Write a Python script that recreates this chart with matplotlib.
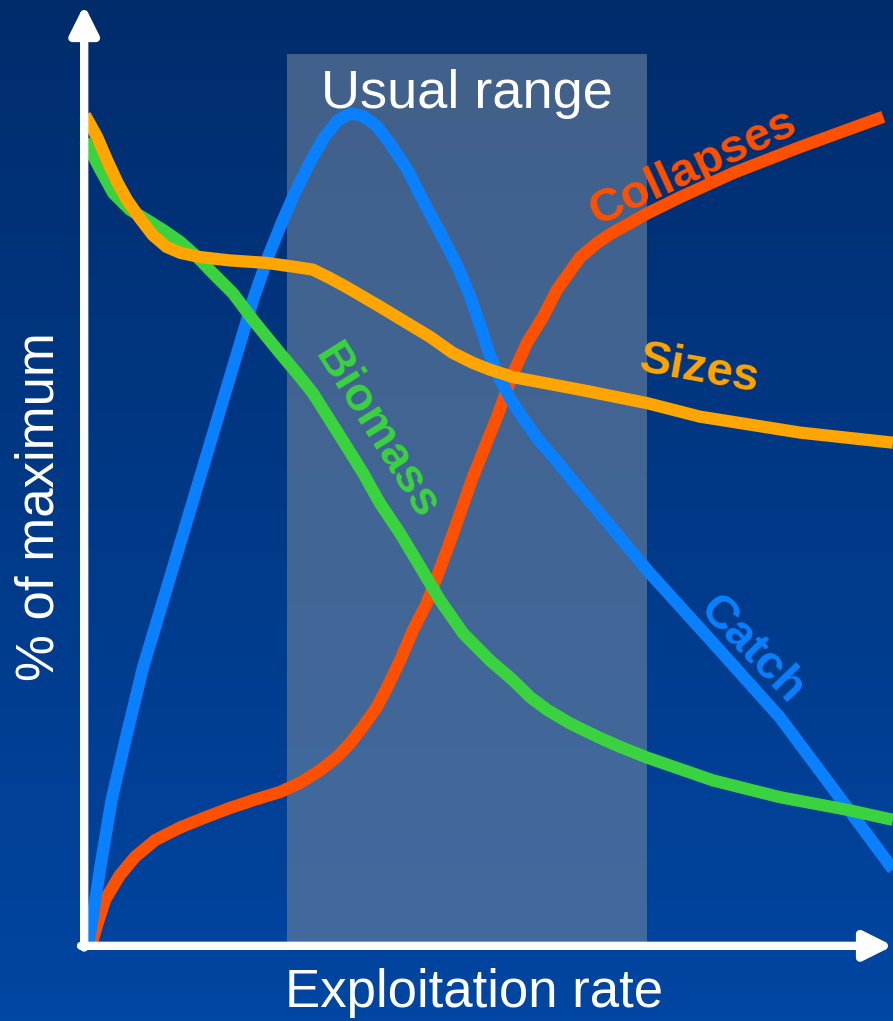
import numpy as np
import matplotlib
matplotlib.use('Agg')
from matplotlib import pyplot as plt

plt.rcParams['font.family'] = ['Liberation Sans', 'DejaVu Sans']

# exploitation rate (0-100) vs % of maximum
catch_x = [0.4, 0.9, 1.9, 3.3, 5.2, 7.2, 9.7, 13.4, 17.1, 20.8, 22.6, 24.4, 26.0, 27.8, 29.5,
           31.2, 32.8, 34.4, 36.1, 37.7, 39.9, 41.8, 43.9, 46.0, 47.6, 48.9, 50.1, 51.4,
           52.6, 53.8, 55.9, 58.4, 61.3, 69.6, 77.7, 86.0, 94.3, 100.0]
catch_y = [0.0, 3.0, 9.3, 17.3, 25.2, 33.1, 41.1, 53.0, 64.9, 76.8, 81.8, 86.1, 89.6, 93.1, 96.0,
           98.1, 99.0, 98.7, 97.5, 95.5, 92.3, 88.7, 84.9, 81.0, 77.4, 73.8, 70.2, 67.3,
           65.1, 63.3, 60.4, 57.6, 54.2, 44.6, 36.0, 27.1, 16.4, 9.0]

collapse_x = [0.9, 1.5, 2.5, 4.3, 6.2, 8.7, 11.8, 14.9, 17.9, 21.0, 24.1, 26.6, 29.1, 31.2,
              32.8, 34.4, 36.1, 37.4, 39.0, 40.6, 42.3, 44.8, 48.0, 51.0, 53.0, 54.7, 56.7,
              58.4, 61.3, 63.4, 65.3, 69.6, 73.6, 80.2, 88.5, 98.8]
collapse_y = [0.4, 2.4, 5.4, 8.3, 10.5, 12.5, 14.0, 15.2, 16.3, 17.3, 18.2, 19.3, 20.8, 22.4,
              24.0, 26.0, 28.3, 30.7, 33.9, 37.5, 40.7, 47.0, 55.7, 62.9, 68.1, 71.7, 74.8,
              78.0, 81.9, 83.6, 84.8, 87.1, 89.0, 91.9, 95.0, 98.6]

biomass_x = [0.0, 1.9, 3.5, 5.6, 7.7, 9.7, 11.8, 13.9, 15.8, 18.3, 20.8, 24.1, 26.2, 28.2, 30.3,
             32.4, 34.4, 36.5, 39.0, 41.5, 43.9, 46.8, 50.1, 53.0, 55.1, 57.2, 60.0, 63.4, 66.2,
             69.6, 77.7, 86.0, 94.3, 100.0]
biomass_y = [95.8, 92.3, 89.5, 87.5, 86.3, 85.1, 83.7, 81.9, 80.0, 77.6, 74.4, 70.5, 68.1, 65.7, 62.5,
             59.3, 56.2, 52.6, 49.0, 45.0, 41.1, 37.1, 33.9, 31.5, 29.5, 28.0, 26.4, 24.8, 23.6,
             22.3, 19.6, 17.6, 16.1, 14.9]

sizes_x = [0.0, 1.5, 2.7, 4.0, 5.2, 6.8, 8.4, 10.1, 11.8, 14.2, 17.9, 22.5, 26.2, 28.2, 30.3,
           32.4, 36.5, 42.7, 45.5, 48.0, 50.1, 53.0, 61.3, 69.6, 76.1, 88.5, 100.0]
sizes_y = [98.8, 96.2, 93.5, 90.8, 88.7, 86.5, 84.5, 83.1, 82.4, 81.9, 81.5, 81.2, 80.7, 80.4, 79.4,
           78.3, 76.0, 72.4, 70.5, 69.3, 68.5, 67.6, 66.1, 64.5, 62.9, 61.0, 59.8]

usual_range = (25.0, 69.6)

fig = plt.figure(figsize=(8.93, 10.21), dpi=100)

# blue gradient backdrop
bg = fig.add_axes([0, 0, 1, 1], zorder=-10)
top = np.array([1, 44, 108]) / 255.
bot = np.array([0, 70, 162]) / 255.
t = np.linspace(0, 1, 256)[:, None]
grad = top[None, None, :] * (1 - t[:, :, None]) + bot[None, None, :] * t[:, :, None]
bg.imshow(grad, aspect='auto', extent=[0, 1, 0, 1])
bg.axis('off')

ax = fig.add_axes([85/893, 76/1021, 808/893, 945/1021])
ax.set_xlim(0, 100)
ax.set_ylim(0, 112.5)
ax.patch.set_alpha(0)
for s in ax.spines.values():
	s.set_visible(False)
ax.set_xticks([])
ax.set_yticks([])

ax.fill_between(usual_range, 0, 106.1, color='#70859F', alpha=0.59, lw=0, zorder=1)
ax.text(sum(usual_range)/2, 99.6, 'Usual range', color='white', fontsize=39,
		ha='center', va='baseline', zorder=6)

lw = 8.8
kw = dict(lw=lw, solid_joinstyle='round', solid_capstyle='butt', clip_on=False)
ax.plot(collapse_x, collapse_y, color='#FF5000', zorder=2, **kw)
ax.plot(catch_x, catch_y, color='#0A80FF', zorder=3, **kw)
ax.plot(biomass_x, biomass_y, color='#3AD23E', zorder=4, **kw)
ax.plot(sizes_x, sizes_y, color='#FFA500', zorder=5, **kw)

lab = dict(fontsize=34, fontweight='bold', ha='center', va='center', rotation_mode='anchor', zorder=6)
ax.text(75.2, 92.5, 'Collapses', color='#FF5000', rotation=25, **lab)
ax.text(76.0, 68.5, 'Sizes', color='#FFA500', rotation=-10, **lab)
ax.text(36.1, 61.1, 'Biomass', color='#3AD23E', rotation=-58, **lab)
ax.text(82.5, 35.1, 'Catch', color='#0A80FF', rotation=-46, **lab)

# axis arrows
arrow = dict(arrowstyle='-|>,head_length=1.7,head_width=0.85', color='white', lw=6.0,
			 shrinkA=0, shrinkB=0)
ax.annotate('', xy=(-0.1, 111.9), xytext=(-0.1, -0.3), arrowprops=arrow, annotation_clip=False, zorder=7)
ax.annotate('', xy=(100.0, -0.1), xytext=(-0.5, -0.1), arrowprops=arrow, annotation_clip=False, zorder=7)

fig.text(474/893, 1 - 993/1021, 'Exploitation rate', color='white', fontsize=38,
		 ha='center', va='center')
fig.text(40/893, 1 - 507/1021, '% of maximum', color='white', fontsize=38,
		 ha='center', va='center', rotation=90)

fig.savefig('out.png', dpi=100)
